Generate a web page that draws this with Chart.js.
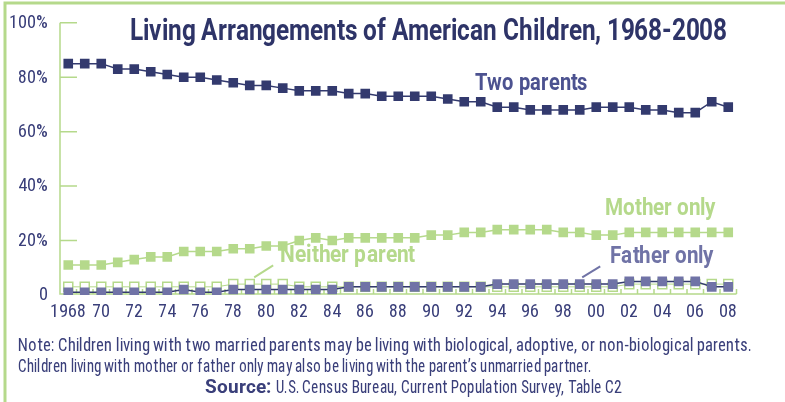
<!DOCTYPE html>
<html lang="en">
<head>
    <meta charset="UTF-8">
    <title>Living Arrangements of American Children, 1968-2008</title>
    <style>
        @font-face {
            font-family: 'CondLocal';
            font-weight: normal;
            src: local('Liberation Sans Narrow'), local('LiberationSansNarrow-Regular'),
                 local('Noto Sans Condensed'), local('NotoSans-Condensed'),
                 local('Roboto Condensed'), local('RobotoCondensed-Regular'),
                 local('DejaVu Sans Condensed'), local('DejaVuSansCondensed');
        }
        @font-face {
            font-family: 'CondLocal';
            font-weight: bold;
            src: local('Liberation Sans Narrow Bold'), local('LiberationSansNarrow-Bold'),
                 local('Noto Sans Condensed Bold'), local('NotoSans-CondensedBold'),
                 local('Roboto Condensed Bold'), local('RobotoCondensed-Bold'),
                 local('DejaVu Sans Condensed Bold'), local('DejaVuSansCondensed-Bold');
        }
        html, body { margin: 0; padding: 0; background: #fff; }
    </style>
</head>
<body>
    <canvas id="myChart" width="785" height="402"></canvas>
    <script src="https://cdn.jsdelivr.net/npm/chart.js"></script>
    <script>
        const years = [1968, 1969, 1970, 1971, 1972, 1973, 1974, 1975, 1976, 1977,
                       1978, 1979, 1980, 1981, 1982, 1983, 1984, 1985, 1986, 1987,
                       1988, 1989, 1990, 1991, 1992, 1993, 1994, 1995, 1996, 1997,
                       1998, 1999, 2000, 2001, 2002, 2003, 2004, 2005, 2006, 2007, 2008];
        const yearTickLabels = ['1968', '70', '72', '74', '76', '78', '80', '82', '84', '86', '88',
                                '90', '92', '94', '96', '98', '00', '02', '04', '06', '08'];
        const percentTickLabels = ['0', '20%', '40%', '60%', '80%', '100%'];

        // percent of children
        const twoParents = [85, 85, 85, 83, 83, 82, 81, 80, 80, 79,
                            78, 77, 77, 76, 75, 75, 75, 74, 74, 73,
                            73, 73, 73, 72, 71, 71, 69, 69, 68, 68,
                            68, 68, 69, 69, 69, 68, 68, 67, 67, 71, 69];
        const motherOnly = [11, 11, 11, 12, 13, 14, 14, 16, 16, 16,
                            17, 17, 18, 18, 20, 21, 20, 21, 21, 21,
                            21, 21, 22, 22, 23, 23, 24, 24, 24, 24,
                            23, 23, 22, 22, 23, 23, 23, 23, 23, 23, 23];
        const fatherOnly = [1, 1, 1, 1, 1, 1, 1, 2, 1, 1,
                            2, 2, 2, 2, 2, 2, 2, 3, 3, 3,
                            3, 3, 3, 3, 3, 3, 4, 4, 4, 4,
                            4, 4, 4, 4, 5, 5, 5, 5, 5, 3, 3];
        const neitherParent = [3, 3, 3, 3, 3, 3, 3, 3, 3, 3,
                               4, 4, 4, 4, 3, 3, 3, 3, 3, 3,
                               3, 3, 3, 3, 3, 3, 3, 3, 3, 3,
                               3, 3, 3, 3, 4, 4, 4, 4, 4, 4, 4];

        const GREEN = '#b5d98b';
        const NAVY = '#333a6e';
        const PURPLE = '#7073a6';
        const TEXT_NAVY = '#3a3f7a';
        const NARROW = 'CondLocal, "DejaVu Sans Condensed", "Liberation Sans", sans-serif';

        // series labels, anchored to (year index, percent) on the scales
        const seriesLabels = [
            { text: 'Two parents',    idx: 24.67, val: 75.3, width: 112, color: '#4c5290' },
            { text: 'Mother only',    idx: 32.5,  val: 29.5, width: 111, color: GREEN },
            { text: 'Father only',    idx: 32.85, val: 11.6, width: 103, color: PURPLE },
            { text: 'Neither parent', idx: 12.85, val: 12.0, width: 135, color: GREEN }
        ];
        const leaders = [
            { from: [12.42, 10.9], to: [11.27, 6.5], color: GREEN },
            { from: [32.24, 10.5], to: [31.15, 6.5], color: PURPLE }
        ];

        const decorPlugin = {
            id: 'decor',
            beforeDraw: (chart) => {
                const ctx = chart.ctx;
                ctx.save();
                ctx.fillStyle = '#fff';
                ctx.fillRect(0, 0, chart.width, chart.height);
                ctx.strokeStyle = GREEN;
                ctx.lineWidth = 3;
                ctx.beginPath();
                ctx.moveTo(5, chart.height);
                ctx.lineTo(5, 3);
                ctx.lineTo(chart.width, 3);
                ctx.stroke();
                ctx.restore();
            },
            beforeDatasetsDraw: (chart) => {
                const ctx = chart.ctx;
                const area = chart.chartArea;
                const xScale = chart.scales['x'];
                const yScale = chart.scales['y'];
                const y0 = yScale.getPixelForValue(0) - 1;
                ctx.save();
                ctx.strokeStyle = GREEN;
                ctx.lineWidth = 1.5;
                ctx.beginPath();
                ctx.moveTo(area.left, yScale.getPixelForValue(100));
                ctx.lineTo(area.left, y0);
                ctx.lineTo(area.right, y0);
                yScale.ticks.forEach(t => {
                    if (t.value > 0) {
                        const py = yScale.getPixelForValue(t.value);
                        ctx.moveTo(area.left, py);
                        ctx.lineTo(area.left + 17, py);
                    }
                });
                for (let i = 0; i <= years.length; i++) {
                    const px = xScale.getPixelForValue(i - 0.5);
                    ctx.moveTo(px, y0);
                    ctx.lineTo(px, y0 - 5);
                }
                ctx.stroke();
                ctx.restore();
            },
            afterDraw: (chart) => {
                const ctx = chart.ctx;
                const xScale = chart.scales['x'];
                const yScale = chart.scales['y'];
                ctx.save();
                ctx.textBaseline = 'alphabetic';
                ctx.textAlign = 'left';

                // title
                ctx.fillStyle = '#2e3468';
                ctx.font = 'bold 30px ' + NARROW;
                ctx.fillText('Living Arrangements of American Children, 1968-2008', 130, 40, 597);

                // series labels
                ctx.font = 'bold 24px ' + NARROW;
                seriesLabels.forEach(l => {
                    ctx.fillStyle = l.color;
                    ctx.fillText(l.text, xScale.getPixelForValue(l.idx), yScale.getPixelForValue(l.val), l.width);
                });
                ctx.lineWidth = 2;
                leaders.forEach(l => {
                    ctx.strokeStyle = l.color;
                    ctx.beginPath();
                    ctx.moveTo(xScale.getPixelForValue(l.from[0]), yScale.getPixelForValue(l.from[1]));
                    ctx.lineTo(xScale.getPixelForValue(l.to[0]), yScale.getPixelForValue(l.to[1]));
                    ctx.stroke();
                });

                // notes
                ctx.fillStyle = TEXT_NAVY;
                ctx.font = '19px ' + NARROW;
                ctx.fillText('Note: Children living with two married parents may be living with biological, adoptive, or non-biological parents.', 18, 351, 734);
                ctx.fillText('Children living with mother or father only may also be living with the parent\u2019s unmarried partner.', 18, 372, 573);

                const srcBold = 'Source:';
                const srcRest = 'U.S. Census Bureau, Current Population Survey, Table C2';
                const gap = 5;
                ctx.font = 'bold 19px ' + NARROW;
                const wBold = ctx.measureText(srcBold).width;
                ctx.font = '19px ' + NARROW;
                const wRest = Math.min(ctx.measureText(srcRest).width, 416 - wBold - gap);
                const sx = 413 - (wBold + gap + wRest) / 2;
                ctx.font = 'bold 19px ' + NARROW;
                ctx.fillText(srcBold, sx, 393);
                ctx.font = '19px ' + NARROW;
                ctx.fillText(srcRest, sx + wBold + gap, 393, wRest);
                ctx.restore();
            }
        };

        const ctx = document.getElementById('myChart').getContext('2d');
        const chartInstance = new Chart(ctx, {
            type: 'line',
            data: {
                labels: years,
                datasets: [
                    {
                        label: 'Father only',
                        data: fatherOnly,
                        borderColor: NAVY,
                        borderWidth: 1.5,
                        pointStyle: 'rect',
                        pointRadius: 6.8,
                        pointBackgroundColor: PURPLE,
                        pointBorderWidth: 0,
                        order: 0
                    },
                    {
                        label: 'Neither parent',
                        data: neitherParent,
                        borderColor: GREEN,
                        borderWidth: 1,
                        pointStyle: 'rect',
                        pointRadius: 6.4,
                        pointBackgroundColor: '#ffffff',
                        pointBorderColor: GREEN,
                        pointBorderWidth: 1.5,
                        order: 1
                    },
                    {
                        label: 'Mother only',
                        data: motherOnly,
                        borderColor: GREEN,
                        borderWidth: 1.5,
                        pointStyle: 'rect',
                        pointRadius: 6.8,
                        pointBackgroundColor: GREEN,
                        pointBorderWidth: 0,
                        order: 2
                    },
                    {
                        label: 'Two parents',
                        data: twoParents,
                        borderColor: NAVY,
                        borderWidth: 1.5,
                        pointStyle: 'rect',
                        pointRadius: 6.8,
                        pointBackgroundColor: NAVY,
                        pointBorderWidth: 0,
                        order: 3
                    }
                ]
            },
            options: {
                responsive: false,
                animation: false,
                layout: {
                    padding: { top: 20, right: 48.5, bottom: 0, left: 0 }
                },
                scales: {
                    x: {
                        type: 'category',
                        offset: true,
                        grid: { display: false, drawTicks: false },
                        border: { display: false },
                        afterFit: (scale) => { scale.height = 107; },
                        ticks: {
                            autoSkip: false,
                            maxRotation: 0,
                            padding: 6,
                            color: TEXT_NAVY,
                            font: { family: NARROW, size: 18 },
                            callback: (value, index) => index % 2 === 0 ? yearTickLabels[index / 2] : ''
                        }
                    },
                    y: {
                        min: 0,
                        max: 100,
                        grid: { display: false, drawTicks: false },
                        border: { display: false },
                        afterFit: (scale) => { scale.width = 60; },
                        ticks: {
                            stepSize: 20,
                            padding: 12,
                            color: TEXT_NAVY,
                            font: { family: NARROW, size: 18 },
                            callback: (value) => percentTickLabels[value / 20]
                        }
                    }
                },
                plugins: {
                    legend: { display: false },
                    tooltip: { enabled: false },
                    title: { display: false }
                }
            },
            plugins: [decorPlugin]
        });

        // redraw once the local condensed face is ready
        Promise.all([
            document.fonts.load('16px CondLocal'),
            document.fonts.load('bold 16px CondLocal')
        ]).then(() => chartInstance.update()).catch(() => {});
    </script>
</body>
</html>
